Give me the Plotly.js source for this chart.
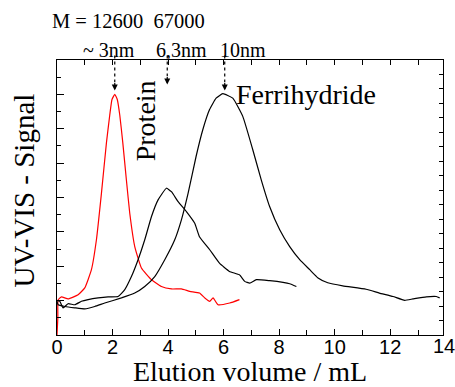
<!DOCTYPE html>
<html>
<head>
<meta charset="utf-8">
<script src="https://cdn.plot.ly/plotly-3.0.1.min.js"></script>
<style>html,body{margin:0;padding:0;background:#fff;}#chart{width:455px;height:387px;}</style>
</head>
<body>
<div id="chart"></div>
<script>
// Red curve (~3 nm, M = 12600)
var redX = [0.0, 0.03, 0.04, 0.16, 0.4, 0.76, 1.0, 1.24, 1.42, 1.6, 1.78, 1.9, 1.98, 2.08, 2.17, 2.26, 2.37, 2.5, 2.62, 2.8, 3.04, 3.4, 3.76, 4.12, 4.48, 4.78, 5.13, 5.32, 5.5, 5.62, 5.8, 6.22, 6.57];
var redY = [0.0, 0.5, 1.02, 1.11, 1.05, 1.17, 1.37, 1.9, 2.77, 4.12, 5.59, 6.4, 6.85, 7.0, 6.85, 6.4, 5.59, 4.5, 3.54, 2.57, 1.95, 1.61, 1.41, 1.34, 1.34, 1.27, 1.22, 1.08, 0.98, 1.08, 0.88, 0.93, 1.03];
// Protein curve (6,3 nm, M = 67000)
var protX = [0.0, 0.1, 0.22, 0.4, 0.64, 0.88, 1.12, 1.48, 1.84, 2.2, 2.44, 2.68, 2.92, 3.16, 3.4, 3.64, 3.94, 4.12, 4.36, 4.66, 4.96, 5.13, 5.5, 5.85, 6.21, 6.57, 6.76, 6.94, 7.18, 7.66, 8.14, 8.38, 8.62];
var protY = [1.0, 0.98, 0.79, 0.91, 0.88, 0.98, 1.03, 1.08, 1.11, 1.12, 1.32, 1.7, 2.19, 2.77, 3.44, 3.93, 4.27, 4.17, 3.88, 3.59, 3.25, 2.86, 2.48, 2.09, 1.85, 1.75, 1.56, 1.51, 1.61, 1.58, 1.53, 1.49, 1.41];
// Ferrihydride curve (10 nm)
var ferX = [0.0, 0.04, 0.28, 0.64, 1.0, 1.36, 1.72, 2.32, 2.8, 3.16, 3.52, 3.88, 4.24, 4.48, 4.72, 5.01, 5.25, 5.49, 5.73, 5.97, 6.33, 6.69, 7.05, 7.36, 7.66, 8.02, 8.38, 8.74, 9.1, 9.4, 9.75, 10.29, 11.13, 11.61, 12.1, 12.52, 12.82, 13.3, 13.66, 13.78];
var ferY = [0.98, 0.88, 0.83, 0.79, 0.76, 0.83, 0.93, 1.08, 1.22, 1.41, 1.7, 2.19, 2.77, 3.35, 4.12, 5.2, 5.97, 6.55, 6.89, 7.02, 6.89, 6.36, 5.39, 4.5, 3.73, 3.06, 2.57, 2.19, 1.9, 1.66, 1.52, 1.43, 1.33, 1.22, 1.12, 1.01, 1.05, 1.11, 1.12, 1.08];

var xTickVals = [0, 2, 4, 6, 8, 10, 12, 14];
var xTickText = ['0', '2', '4', '6', '8', '10', '12', '14'];
var peakX = [2.08, 3.97, 6.04];
var peakLabels = ['~ 3nm', '6,3nm', '10nm'];
var arrowTipY = [0.889, 0.911, 0.889];

var xRange = [0, 13.9];
var serif = 'Liberation Serif, Times New Roman, serif';
var sans = 'Liberation Sans, Arial, sans-serif';

var lw = 1.2;
var traces = [
  {x: redX, y: redY, mode: 'lines', line: {color: '#ff0000', width: lw, shape: 'spline', smoothing: 0.4}, showlegend: false, hoverinfo: 'skip'},
  {x: protX, y: protY, mode: 'lines', line: {color: '#000000', width: lw, shape: 'spline', smoothing: 0.4}, showlegend: false, hoverinfo: 'skip'},
  {x: ferX, y: ferY, mode: 'lines', line: {color: '#000000', width: lw, shape: 'spline', smoothing: 0.4}, showlegend: false, hoverinfo: 'skip'},
  {x: [], y: [], xaxis: 'x2', yaxis: 'y2', showlegend: false}
];

function toPaperX(v) { return (v - xRange[0]) / (xRange[1] - xRange[0]); }
function pyToPaper(py) { return (335.5 - py) / 276; }
function pxToPaper(px) { return (px - 57) / 386; }

var shapes = [];
var annotations = [];
for (var i = 0; i < peakX.length; i++) {
  var px = toPaperX(peakX[i]);
  shapes.push({type: 'line', xref: 'paper', yref: 'paper', x0: px, x1: px, y0: 1.016, y1: arrowTipY[i] + 0.03,
    line: {color: '#000', width: 1.2, dash: 'dot'}});
  annotations.push({xref: 'paper', yref: 'paper', x: px, y: arrowTipY[i], text: '', showarrow: true,
    arrowhead: 2, arrowsize: 1, arrowwidth: 1.2, arrowcolor: '#000', ax: 0, ay: -9});
}
// x tick label "14" lies just past the end of the axis
annotations.push({xref: 'paper', yref: 'paper', x: pxToPaper(443.5), y: pyToPaper(346.5), xanchor: 'center', yanchor: 'middle',
  text: xTickText[7], showarrow: false, font: {family: sans, size: 20, color: '#000'}});
annotations.push({xref: 'paper', yref: 'paper', x: pxToPaper(50), y: pyToPaper(20), xanchor: 'left', yanchor: 'middle',
  text: 'M = 12600&nbsp;&nbsp;67000', showarrow: false, font: {family: serif, size: 20.5, color: '#000'}});
var labelCx = [108.5, 181.5, 243];
for (var j = 0; j < peakLabels.length; j++) {
  annotations.push({xref: 'paper', yref: 'paper', x: pxToPaper(labelCx[j]), y: pyToPaper(49), xanchor: 'center', yanchor: 'middle',
    text: peakLabels[j], showarrow: false, font: {family: serif, size: 20, color: '#000'}});
}
annotations.push({xref: 'paper', yref: 'paper', x: pxToPaper(234), y: pyToPaper(94), xanchor: 'left', yanchor: 'middle',
  text: 'Ferrihydride', showarrow: false, font: {family: serif, size: 28, color: '#000'}});
annotations.push({xref: 'paper', yref: 'paper', x: pxToPaper(145), y: pyToPaper(121), xanchor: 'center', yanchor: 'middle',
  text: 'Protein', textangle: -90, showarrow: false, font: {family: serif, size: 28, color: '#000'}});
// y axis title
annotations.push({xref: 'paper', yref: 'paper', x: pxToPaper(24), y: pyToPaper(190.5), xanchor: 'center', yanchor: 'middle',
  text: 'UV-VIS - Signal', textangle: -90, showarrow: false, font: {family: serif, size: 29, color: '#000'}});

var layout = {
  width: 455, height: 387,
  margin: {l: 57, r: 12, t: 60, b: 52},
  paper_bgcolor: '#fff', plot_bgcolor: '#fff',
  showlegend: false,
  xaxis: {range: xRange, tickvals: xTickVals, ticktext: xTickText, ticks: 'inside', ticklen: 6, tickwidth: 1, tickcolor: '#000',
    minor: {dtick: 1, tick0: 1, ticks: 'inside', ticklen: 5, tickwidth: 1, tickcolor: '#000', showgrid: false},
    showline: true, linecolor: '#000', linewidth: 1.3, mirror: true, showgrid: false, zeroline: false,
    tickfont: {family: sans, size: 20, color: '#000'}, ticklabelstandoff: -6,
    title: {text: 'Elution volume / mL', font: {family: serif, size: 28, color: '#000'}, standoff: 9}},
  yaxis: {range: [0, 8], dtick: 1, tick0: 0, ticks: 'inside', ticklen: 7, tickwidth: 1, tickcolor: '#000',
    minor: {dtick: 0.5, ticks: 'inside', ticklen: 4, tickwidth: 1, tickcolor: '#000', showgrid: false},
    showticklabels: false, showline: true, linecolor: '#000', linewidth: 1.3, mirror: true, showgrid: false, zeroline: false},
  xaxis2: {overlaying: 'x', side: 'top', anchor: 'y2', range: xRange, dtick: 1, tick0: 0, ticks: 'inside', ticklen: 5, tickwidth: 1, tickcolor: '#000',
    showticklabels: false, showline: false, showgrid: false, zeroline: false},
  yaxis2: {overlaying: 'y', side: 'right', anchor: 'x2', range: [0, 19], dtick: 1, tick0: 0, ticks: 'inside', ticklen: 4, tickwidth: 1, tickcolor: '#000',
    showticklabels: false, showline: false, showgrid: false, zeroline: false},
  shapes: shapes,
  annotations: annotations
};

Plotly.newPlot('chart', traces, layout, {staticPlot: true, displayModeBar: false});
</script>
</body>
</html>
